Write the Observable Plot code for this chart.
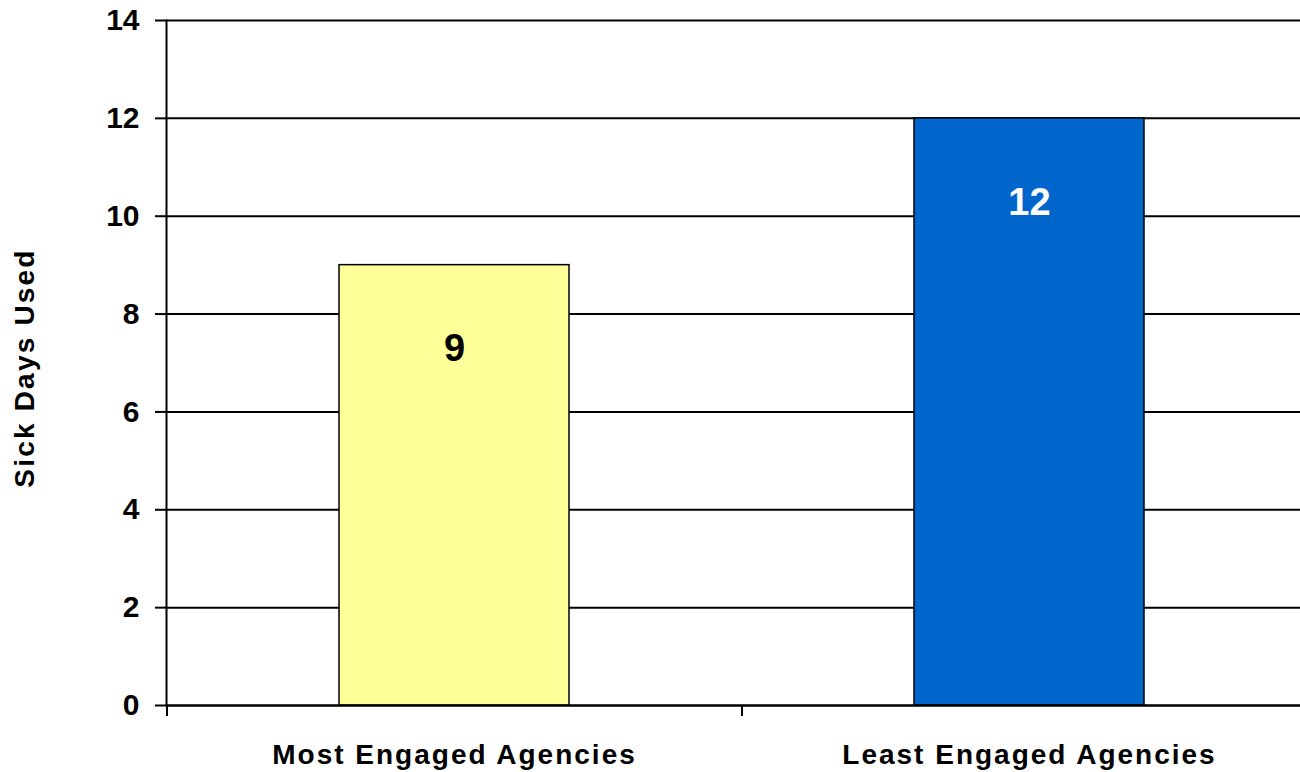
<!DOCTYPE html>
<html>
<head>
<meta charset="utf-8">
<script src="https://cdn.jsdelivr.net/npm/d3@7"></script>
<script src="https://cdn.jsdelivr.net/npm/@observablehq/plot@0.6"></script>
<style>
  html, body { margin: 0; padding: 0; background: #fff; overflow: hidden; }
  #chart svg { display: block; font-family: Arial, "Liberation Sans", sans-serif; }
</style>
</head>
<body>
<div id="chart"></div>
<script>
const categories = ["Most Engaged Agencies", "Least Engaged Agencies"];
const sickDays = [9, 12];
const barColors = ["#FFFF99", "#0066CC"];
const labelColors = ["#000000", "#FFFFFF"];
const yTicks = [0, 2, 4, 6, 8, 10, 12, 14];
const yLabel = "Sick Days Used";

const data = categories.map((c, i) => ({category: c, value: sickDays[i], color: barColors[i], labelColor: labelColors[i]}));

const W = 1300, H = 772;
const left = 166, rightEnd = 1316;
const halfBand = (rightEnd - left) / categories.length / 2;

const chart = Plot.plot({
  width: W,
  height: H,
  marginLeft: left,
  marginRight: 0,
  marginTop: 20,
  marginBottom: 67,
  style: {fontFamily: "Arial, 'Liberation Sans', sans-serif", background: "white", overflow: "hidden"},
  x: {domain: categories, range: [left, rightEnd], paddingInner: 0.6, paddingOuter: 0.3, align: 0.5},
  y: {domain: [0, 14]},
  marks: [
    Plot.gridY(yTicks, {stroke: "#000", strokeOpacity: 1, strokeWidth: 2}),
    Plot.barY(data, {x: "category", y: "value", fill: "color", stroke: "#000", strokeWidth: 1.5}),
    Plot.text(data, {x: "category", y: "value", text: d => String(d.value), fill: "labelColor", fontSize: 38, fontWeight: "bold", dy: 84}),
    Plot.ruleY([0], {stroke: "#000", strokeWidth: 2}),
    Plot.frame({anchor: "left", stroke: "#000", strokeWidth: 2}),
    Plot.axisY({ticks: yTicks, tickSize: 11, tickPadding: 16, fontSize: 30, fontWeight: "bold", label: null, stroke: "#000", strokeWidth: 2, fill: "#000"}),
    Plot.axisX({tickSize: 11, tickFormat: () => "", dx: -halfBand, label: null, stroke: "#000", strokeWidth: 2}),
    Plot.axisX({tickSize: 0, tickPadding: 39, fontSize: 28, fontWeight: "bold", label: null, fill: "#000"}),
    Plot.text([yLabel], {frameAnchor: "left", textAnchor: "middle", text: d => d, rotate: -90, dx: -141, dy: 5, fontSize: 28, fontWeight: "bold", fill: "#000"})
  ]
});

const svgRoot = d3.select(chart);
svgRoot.selectAll("text")
  .filter(function() { return categories.includes(this.textContent); })
  .style("letter-spacing", "2px");
svgRoot.selectAll("text")
  .filter(function() { return this.textContent === yLabel; })
  .style("letter-spacing", "2.2px");

document.getElementById("chart").appendChild(chart);
</script>
</body>
</html>
